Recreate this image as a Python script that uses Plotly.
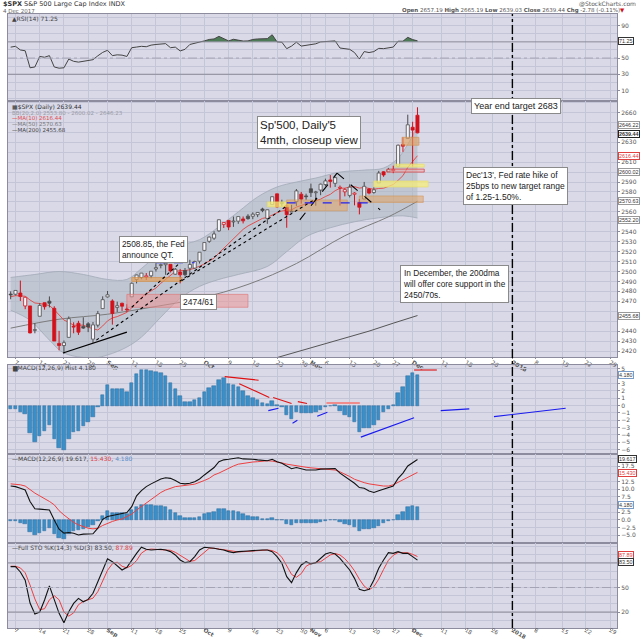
import plotly.graph_objects as go
from plotly.subplots import make_subplots

# ---------------- data ----------------
dates = [
    "Aug 4", "Aug 7", "Aug 8", "Aug 9", "Aug 10", "Aug 11", "Aug 14", "Aug 15", "Aug 16", "Aug 17",
    "Aug 18", "Aug 21", "Aug 22", "Aug 23", "Aug 24", "Aug 25", "Aug 28", "Aug 29", "Aug 30", "Aug 31",
    "Sep 1", "Sep 5", "Sep 6", "Sep 7", "Sep 8", "Sep 11", "Sep 12", "Sep 13", "Sep 14", "Sep 15",
    "Sep 18", "Sep 19", "Sep 20", "Sep 21", "Sep 22", "Sep 25", "Sep 26", "Sep 27", "Sep 28", "Sep 29",
    "Oct 2", "Oct 3", "Oct 4", "Oct 5", "Oct 6", "Oct 9", "Oct 10", "Oct 11", "Oct 12", "Oct 13",
    "Oct 16", "Oct 17", "Oct 18", "Oct 19", "Oct 20", "Oct 23", "Oct 24", "Oct 25", "Oct 26", "Oct 27",
    "Oct 30", "Oct 31", "Nov 1", "Nov 2", "Nov 3", "Nov 6", "Nov 7", "Nov 8", "Nov 9", "Nov 10",
    "Nov 13", "Nov 14", "Nov 15", "Nov 16", "Nov 17", "Nov 20", "Nov 21", "Nov 22", "Nov 24", "Nov 27",
    "Nov 28", "Nov 29", "Nov 30", "Dec 1", "Dec 4",
]
opens = [
    2476.88, 2477.14, 2478.35, 2465.35, 2465.38, 2441.04, 2454.96, 2468.66, 2470.15, 2462.95,
    2427.64, 2425.50, 2433.75, 2444.88, 2447.91, 2444.72, 2447.35, 2431.94, 2446.06, 2462.65,
    2474.42, 2470.35, 2463.83, 2468.06, 2462.25, 2474.52, 2491.94, 2493.89, 2494.56, 2495.67,
    2502.51, 2506.29, 2506.84, 2507.16, 2497.26, 2499.39, 2501.04, 2503.30, 2503.41, 2510.42,
    2521.20, 2530.34, 2533.48, 2540.86, 2547.44, 2551.39, 2549.99, 2550.62, 2552.88, 2555.66,
    2555.57, 2557.17, 2562.87, 2553.39, 2567.56, 2578.08, 2568.66, 2566.52, 2560.08, 2570.26,
    2577.75, 2575.99, 2583.21, 2579.46, 2581.93, 2587.47, 2592.11, 2588.71, 2584.00, 2580.18,
    2576.53, 2577.75, 2569.45, 2572.95, 2582.94, 2579.49, 2589.17, 2600.31, 2600.42, 2602.66,
    2605.94, 2627.82, 2633.93, 2645.10, 2657.19,
]
highs = [
    2480.00, 2480.95, 2490.87, 2474.41, 2465.38, 2448.09, 2468.22, 2468.90, 2474.93, 2465.02,
    2440.27, 2430.58, 2454.77, 2448.91, 2450.39, 2453.96, 2449.12, 2449.19, 2460.31, 2475.01,
    2480.38, 2471.97, 2469.64, 2468.62, 2467.11, 2488.95, 2496.77, 2498.37, 2498.43, 2500.23,
    2508.32, 2507.84, 2508.85, 2507.16, 2503.47, 2502.54, 2503.51, 2511.75, 2510.81, 2519.44,
    2529.23, 2535.13, 2540.53, 2552.51, 2549.41, 2551.82, 2555.23, 2555.24, 2555.33, 2557.65,
    2559.47, 2559.71, 2564.11, 2562.36, 2575.44, 2578.29, 2572.18, 2567.40, 2567.07, 2582.98,
    2580.03, 2578.29, 2588.40, 2581.11, 2588.42, 2593.38, 2597.02, 2595.47, 2586.50, 2583.81,
    2587.66, 2579.66, 2572.84, 2590.09, 2583.96, 2584.64, 2601.19, 2600.94, 2604.21, 2606.41,
    2627.69, 2634.89, 2657.74, 2650.62, 2665.19,
]
lows = [
    2472.08, 2475.88, 2470.32, 2462.08, 2437.75, 2437.85, 2454.96, 2461.61, 2463.86, 2430.01,
    2420.69, 2417.35, 2433.67, 2437.85, 2436.19, 2442.22, 2439.03, 2428.20, 2443.77, 2462.65,
    2473.85, 2446.55, 2459.20, 2460.29, 2459.40, 2474.52, 2488.03, 2492.14, 2491.35, 2493.16,
    2499.92, 2503.19, 2496.67, 2499.00, 2496.54, 2488.03, 2495.12, 2495.91, 2502.93, 2507.99,
    2520.40, 2528.85, 2531.80, 2540.02, 2543.79, 2541.60, 2544.86, 2547.95, 2548.31, 2552.09,
    2552.64, 2554.69, 2559.67, 2547.92, 2567.56, 2564.33, 2565.58, 2544.00, 2559.80, 2565.94,
    2568.25, 2572.15, 2574.92, 2566.17, 2576.77, 2585.66, 2584.35, 2585.02, 2566.33, 2575.57,
    2574.48, 2566.56, 2557.45, 2572.95, 2577.62, 2578.24, 2589.17, 2595.23, 2600.42, 2598.87,
    2605.44, 2620.32, 2633.93, 2605.52, 2639.03,
]
closes = [
    2476.83, 2480.91, 2474.92, 2474.02, 2438.21, 2441.32, 2465.84, 2464.61, 2468.11, 2430.01,
    2425.55, 2428.37, 2452.51, 2444.04, 2438.97, 2443.05, 2444.24, 2446.30, 2457.59, 2471.65,
    2476.55, 2457.85, 2465.54, 2465.10, 2461.43, 2488.11, 2496.48, 2498.37, 2495.62, 2500.23,
    2503.87, 2506.65, 2508.24, 2500.60, 2502.22, 2496.66, 2496.84, 2507.04, 2510.06, 2519.36,
    2529.12, 2534.58, 2537.74, 2552.07, 2549.33, 2544.73, 2550.64, 2555.24, 2550.93, 2553.17,
    2557.64, 2559.36, 2561.26, 2562.10, 2575.21, 2564.98, 2569.13, 2557.15, 2560.40, 2581.07,
    2572.83, 2575.26, 2579.36, 2579.85, 2587.84, 2591.13, 2590.64, 2594.38, 2584.62, 2582.30,
    2584.84, 2578.87, 2564.62, 2585.64, 2578.85, 2582.14, 2599.03, 2597.08, 2602.42, 2601.42,
    2627.04, 2626.07, 2647.58, 2642.22, 2639.44,
]
ma10 = [
    2474.6, 2475.7, 2475.4, 2475.1, 2471.3, 2468.3, 2467.8, 2466.6, 2465.7, 2461.5,
    2456.4, 2451.1, 2448.9, 2445.9, 2445.9, 2446.1, 2443.9, 2442.1, 2441.1, 2445.2,
    2450.3, 2453.3, 2454.6, 2456.7, 2458.9, 2463.4, 2468.7, 2473.9, 2477.7, 2480.5,
    2483.3, 2488.1, 2492.4, 2496.0, 2500.0, 2500.9, 2500.9, 2501.8, 2503.2, 2505.2,
    2507.7, 2510.5, 2513.4, 2518.6, 2523.3, 2528.1, 2533.5, 2538.3, 2542.4, 2545.8,
    2548.6, 2551.1, 2553.4, 2554.4, 2557.0, 2559.1, 2560.9, 2561.1, 2562.0, 2564.8,
    2566.3, 2567.9, 2569.7, 2571.5, 2572.8, 2575.4, 2577.6, 2581.3, 2583.7, 2583.8,
    2585.0, 2585.4, 2583.9, 2584.5, 2583.6, 2582.7, 2583.5, 2583.8, 2585.6, 2587.5,
    2591.7, 2596.4, 2604.7, 2610.4, 2616.44,
]
ma50_days = [-1, 9, 19, 28, 38, 48, 58, 68, 77, 83]
ma50 = [2443, 2452, 2457, 2464, 2473, 2487, 2508, 2536, 2555, 2570.63]
ma200_days = [53, 58, 63, 68, 73, 78, 83]
ma200 = [2412, 2419, 2426, 2433, 2440, 2448, 2455.68]
bb_upper_days = [-1, 4, 9, 14, 19, 23, 26, 29, 33, 38, 42, 46, 50, 54, 58, 62, 67, 72, 76, 79, 81, 83]
bb_upper = [2494, 2497, 2500, 2497, 2492, 2492, 2503, 2515, 2525, 2532, 2545, 2560, 2575, 2585,
            2590, 2594, 2600, 2602, 2604, 2614, 2628, 2646.23]
bb_lower_days = [-1, 3, 7, 10, 16, 19, 23, 26, 30, 34, 38, 42, 46, 52, 56, 60, 65, 70, 75, 80, 83]
bb_lower = [2461, 2451, 2431, 2418, 2413, 2416, 2424, 2434, 2454, 2473, 2485, 2492, 2497, 2505,
            2520, 2535, 2544, 2550, 2554, 2556, 2553.80]

rsi = [
    63.5, 64.5, 60, 59, 38, 39, 52, 51, 53, 39,
    37.5, 38, 48.8, 46, 45, 46, 46.8, 48, 52.8, 57,
    59.6, 53, 54, 53.6, 52, 62.8, 63.6, 64.5, 64, 66,
    66.8, 67.6, 67.8, 62.8, 63.5, 58.8, 60.8, 66.8, 68, 69.6,
    71.2, 73, 73.6, 76.8, 74, 71.2, 73.2, 72, 71, 71.2,
    73, 73.6, 73.6, 74, 78.8, 70, 69.6, 61.6, 64.8, 69.6,
    64.8, 66, 67, 67.6, 70, 70.4, 70.4, 71.2, 62.4, 62,
    60.8, 56.8, 48.8, 58, 56.8, 58, 62, 61.6, 62.8, 63.6,
    70.8, 70.8, 75.6, 72.8, 71.25,
]
macd_hist = [
    -0.5, -0.5, -0.9, -1.2, -3.8, -5.0, -4.1, -3.5, -2.7, -4.6,
    -5.8, -6.1, -4.5, -3.6, -3.4, -2.8, -2.2, -1.5, -0.2, 1.4,
    2.8, 2.3, 2.3, 2.2, 1.8, 3.1, 4.3, 4.9, 4.8, 4.7,
    4.6, 4.5, 4.1, 3.1, 2.3, 1.3, 0.5, 0.5, 0.7, 1.1,
    1.8, 2.4, 2.7, 3.5, 3.7, 3.0, 2.8, 2.6, 2.0, 1.3,
    1.1, 0.8, 0.4, 0.2, 0.6, 0.1, -0.15, -1.3, -1.8, -0.9,
    -1.0, -1.0, -1.0, -0.9, -0.6, -0.2, -0.05, 0.05, -0.7, -1.3,
    -1.5, -2.3, -3.6, -3.1, -3.1, -2.7, -1.9, -0.9, -0.4, 0.1,
    1.7, 2.5, 4.1, 4.5, 4.18,
]
macd = [
    11.0, 10.8, 10.3, 9.7, 6.0, 3.6, 3.5, 3.4, 3.2, 0.0, -3.0, -4.3,
    -4.1, -4.3, -4.9, -4.6, -4.5, -4.5, -2.7, 0.2, 1.1, 1.4,
    1.9, 2.2, 2.4, 4.3, 7.8, 9.5, 10.8, 11.7, 12.4, 13.3,
    13.7, 13.5, 12.8, 11.9, 11.7, 11.9, 12.4, 13.3, 14.6, 15.7,
    17.0, 18.9, 19.5, 19.7, 19.9, 20.2, 19.8, 19.8, 19.7, 19.5,
    19.3, 19.2, 19.7, 18.9, 18.4, 17.5, 16.6, 17.0, 16.5, 16.2,
    16.2, 16.2, 16.5, 16.6, 16.7, 16.7, 15.2, 14.1, 13.2, 11.9,
    10.5, 10.3, 9.4, 8.9, 9.5, 10.0, 10.6, 11.0, 13.5, 15.2,
    17.5, 18.7, 19.617,
]
macd_signal = [
    11.7, 11.6, 11.4, 11.0, 9.7, 8.7, 7.8, 7.0, 6.0, 4.9, 3.0, 1.6,
    0.3, -0.8, -1.6, -2.2, -2.7, -2.9, -2.7, -1.8, -1.1, -0.5,
    0.0, 0.3, 1.1, 1.9, 3.2, 4.3, 5.6, 6.7, 7.8, 8.9,
    9.7, 10.3, 10.8, 11.0, 11.3, 11.4, 11.6, 12.1, 12.8, 13.5,
    14.6, 15.2, 16.0, 16.8, 17.5, 18.1, 18.4, 18.6, 18.8, 18.9,
    19.1, 19.2, 19.1, 18.9, 18.5, 18.1, 17.8, 17.5, 17.3, 17.1,
    16.9, 16.8, 16.7, 16.6, 16.4, 16.2, 15.6, 14.9, 14.1, 13.2,
    12.6, 12.1, 11.7, 11.4, 11.2, 11.0, 11.0, 11.4, 12.2, 13.0,
    14.0, 14.7, 15.43,
]
sto_k = [
    75.5, 75.5, 69, 59, 31, 17.6, 20, 34.7, 52, 34.7, 18.4, 7,
    20.4, 30.6, 36.7, 32.6, 35.5, 42.9, 57, 71.4, 85, 81.6,
    76.3, 71.4, 74.7, 83.7, 91.8, 99.2, 96.7, 95.9, 96.7, 96.7,
    95.9, 93.9, 89.8, 83.7, 80.4, 81.6, 87.8, 95.9, 99.2, 98.8,
    98, 96.7, 95.9, 93.9, 92.7, 93.9, 94.7, 94.7, 95.1, 95.9,
    95.9, 95.9, 93.9, 87.8, 79.6, 63.3, 55.9, 68.2, 77.6, 81.6,
    78.8, 80.4, 85.7, 91, 92.7, 91, 85.7, 78.8, 71.4, 61.2,
    47.8, 46.1, 47.8, 59.2, 73.5, 83.7, 92.7, 91.8, 93.9, 91.8,
    91.8, 87.8, 83.5,
]
sto_d = [
    76, 76, 74, 68, 53, 36, 23, 24, 35, 40, 35, 20,
    15, 19, 29, 33, 35, 37, 45, 57, 71, 79,
    81, 76, 74, 77, 83, 92, 96, 97, 96.5, 96.4,
    96.4, 95.5, 93, 89, 85, 82, 83, 88, 94, 98,
    98, 97, 96.5, 95.5, 94, 93.5, 93.8, 94.4, 94.8, 95.2,
    95.6, 95.9, 95.2, 92.5, 87, 77, 66, 62.5, 67, 76,
    79.3, 80.3, 81.6, 85.7, 89.8, 91.6, 89.8, 85.2, 78.6, 70.5,
    60.1, 51.7, 47.2, 51, 60.2, 72.1, 83.3, 89.4, 92.8, 92.5,
    92.5, 90.5, 87.89,
]

# trading-day positions of the weekly / monthly ticks (Aug 7 = 0)
tick_days = [0, 5, 10, 15, 19, 24, 29, 34, 39, 44, 49, 54, 59, 61, 64, 69, 74, 78, 82,
             88, 93, 98.4, 102.6, 107.3, 112.9, 117.7, 122.8]
tick_labels = ["7", "14", "21", "28", "<b>Sep</b>", "11", "18", "25", "<b>Oct</b>", "9", "16", "23",
               "30", "<b>Nov</b>", "6", "13", "20", "27", "<b>Dec</b>", "11", "18", "26",
               "<b>2018</b>", "8", "15", "22", "29"]
new_year_day = 102.6

# right-axis labels (the ones not hidden under value flags)
rsi_ticks = [10, 30, 50, 90]
price_ticks = [2420, 2430, 2440, 2470, 2480, 2490, 2500, 2510, 2520, 2530, 2540, 2560, 2580,
               2590, 2610, 2630, 2660]
hist_ticks = [-6, -5, -4, -3, -2, -1, 0, 1, 2, 3, 5]
macd_ticks = [-5, -2.5, 0, 2.5, 7.5, 10, 12.5, 17.5]
sto_ticks = [20, 50]

# ---------------- styling ----------------
BG = "#d9d9e8"
GRID = "#c5c5d8"
FRAME = "#8c8c9e"
RED = "#d3111b"
DARK = "#4a4a4a"
SMALL = dict(family="DejaVu Sans", size=6, color="#555555")
NOTE_FONT = "Liberation Sans"

day = list(range(-1, len(dates) - 1))

fig = make_subplots(rows=5, cols=1, shared_xaxes=True, vertical_spacing=0)

# ---- RSI ----
fig.add_trace(go.Scatter(x=day, y=[70] * len(day), mode="lines", line=dict(width=0),
                         hoverinfo="skip"), row=1, col=1)
fig.add_trace(go.Scatter(x=day, y=[max(v, 70) for v in rsi], mode="lines", line=dict(width=0),
                         fill="tonexty", fillcolor="#4c7b55", hoverinfo="skip"), row=1, col=1)
fig.add_trace(go.Scatter(x=day, y=rsi, mode="lines", line=dict(color="#444444", width=1)),
              row=1, col=1)

# ---- price: bollinger band, moving averages, candles ----
fig.add_trace(go.Scatter(x=bb_lower_days, y=bb_lower, mode="lines", line_shape="spline",
                         line=dict(color="#a2a9b6", width=0.8)), row=2, col=1)
fig.add_trace(go.Scatter(x=bb_upper_days, y=bb_upper, mode="lines", line_shape="spline",
                         line=dict(color="#a2a9b6", width=0.8), fill="tonexty",
                         fillcolor="rgba(172,182,192,0.55)"), row=2, col=1)
fig.add_trace(go.Scatter(x=ma200_days, y=ma200, mode="lines",
                         line=dict(color="#555555", width=1)), row=2, col=1)
fig.add_trace(go.Scatter(x=ma50_days, y=ma50, mode="lines", line_shape="spline",
                         line=dict(color="#7c7c7c", width=1)), row=2, col=1)
fig.add_trace(go.Scatter(x=day, y=ma10, mode="lines",
                         line=dict(color="#e05050", width=1)), row=2, col=1)

wicks = {"dark": ([], []), "red": ([], [])}
bodies = {}
for i, (o, h, l, c) in enumerate(zip(opens, highs, lows, closes)):
    x = day[i]
    tone = "dark" if (i == 0 or c >= closes[i - 1]) else "red"
    kind = "hollow" if c >= o else "solid"
    top, bot = max(o, c), min(o, c)
    if top - bot < 0.8:
        mid = (top + bot) / 2
        top, bot = mid + 0.4, mid - 0.4
    wx, wy = wicks[tone]
    wx += [x, x, None, x, x, None]
    wy += [h, top, None, bot, l, None]
    bx, by = bodies.setdefault((kind, tone), ([], []))
    bx += [x - 0.32, x + 0.32, x + 0.32, x - 0.32, x - 0.32, None]
    by += [bot, bot, top, top, bot, None]

for tone, (wx, wy) in wicks.items():
    fig.add_trace(go.Scatter(x=wx, y=wy, mode="lines", hoverinfo="skip",
                             line=dict(color=RED if tone == "red" else DARK, width=1)),
                  row=2, col=1)
for (kind, tone), (bx, by) in bodies.items():
    col = RED if tone == "red" else DARK
    fig.add_trace(go.Scatter(x=bx, y=by, mode="lines", fill="toself", hoverinfo="skip",
                             fillcolor="#f6f6fb" if kind == "hollow" else col,
                             line=dict(color=col, width=0.8)), row=2, col=1)

# ---- MACD histogram panel ----
fig.add_trace(go.Bar(x=day, y=macd_hist, width=0.72, marker_color="#3b8fc9",
                     marker_line=dict(color="#29699a", width=0.5)), row=3, col=1)

# ---- MACD panel ----
fig.add_trace(go.Bar(x=day, y=macd_hist, width=0.72, marker_color="#3b8fc9",
                     marker_line=dict(color="#29699a", width=0.5)), row=4, col=1)
fig.add_trace(go.Scatter(x=day, y=macd_signal, mode="lines",
                         line=dict(color="#ee4040", width=1)), row=4, col=1)
fig.add_trace(go.Scatter(x=day, y=macd, mode="lines",
                         line=dict(color="#111111", width=1.1)), row=4, col=1)

# ---- Full stochastics ----
fig.add_trace(go.Scatter(x=day, y=sto_d, mode="lines",
                         line=dict(color="#ee4040", width=1)), row=5, col=1)
fig.add_trace(go.Scatter(x=day, y=sto_k, mode="lines",
                         line=dict(color="#111111", width=1.1)), row=5, col=1)

# reference levels
for row, lv in [(1, 70), (1, 30), (5, 80), (5, 20)]:
    fig.add_hline(y=lv, row=row, col=1, line=dict(color="#8a8a98", width=1))
for row in (1, 5):
    fig.add_hline(y=50, row=row, col=1, line=dict(color="#a4a4b4", width=1, dash="dashdot"))

# ---------------- annotation drawing (zones, trend lines) ----------------
zones = [  # day0, day1, price0, price1, fill, outline
    (23, 48, 2464, 2477, "rgba(236,150,150,0.55)", "rgba(220,120,120,0.8)"),
    (24, 34.4, 2490, 2494, "rgba(228,160,90,0.7)", "rgba(210,140,70,0.8)"),
    (52, 56.7, 2565, 2570, "rgba(246,236,120,0.75)", "rgba(230,220,100,0.8)"),
    (56, 68.5, 2561, 2572, "rgba(228,160,90,0.5)", "rgba(210,140,70,0.6)"),
    (71, 84.2, 2569.5, 2576, "rgba(228,160,90,0.5)", "rgba(210,140,70,0.6)"),
    (74, 85.2, 2585, 2591, "rgba(246,236,120,0.75)", "rgba(230,220,100,0.8)"),
    (76.7, 84.4, 2600, 2603, "rgba(240,170,170,0.5)", "rgba(220,60,60,0.9)"),
    (78.4, 84.4, 2605, 2608, "rgba(246,236,120,0.75)", "rgba(230,220,100,0.8)"),
    (79.8, 83.3, 2627, 2635, "rgba(228,160,90,0.6)", "rgba(210,140,70,0.7)"),
]
for d0, d1, p0, p1, fc, lc in zones:
    fig.add_shape(type="rect", xref="x2", yref="y2", x0=d0, x1=d1, y0=p0, y1=p1,
                  fillcolor=fc, line=dict(color=lc, width=0.8), layer="above")

price_lines = [  # day0, price0, day1, price1, colour, dash, width
    (9.8, 2418, 23, 2439, "black", "solid", 1.2),
    (16.7, 2431, 56, 2566, "black", "dot", 1.1),
    (24, 2464, 34, 2509, "black", "dot", 1.1),
    (34.4, 2491, 62.3, 2574, "black", "dot", 1.1),
    (58.7, 2552, 66.4, 2599, "black", "dash", 1.1),
    (66.4, 2599, 75.3, 2562, "black", "dash", 1.1),
    (29, 2508.85, 37, 2508.85, "#2222ee", "dash", 1.1),
    (56, 2569, 74, 2569, "#2222ee", "dash", 1.1),
]
for d0, p0, d1, p1, c, dash, w in price_lines:
    fig.add_shape(type="line", xref="x2", yref="y2", x0=d0, y0=p0, x1=d1, y1=p1,
                  line=dict(color=c, dash=dash, width=w))

hist_lines = [  # day0, v0, day1, v1, colour, width
    (43.2, 3.96, 50.2, 3.47, "#e01010", 1.1),
    (46.2, 3.0, 52.4, 1.1, "#e01010", 1.1),
    (53.2, 1.1, 57, 0.3, "#e01010", 1.1),
    (58.3, 0.54, 60.2, 0.3, "#e01010", 1.1),
    (82.3, 4.86, 87, 4.86, "#e01010", 1.1),
    (64.2, 0.36, 71.1, 0.36, "#f08c8c", 2.2),
    (52.2, -0.68, 54.3, -0.36, "#1a1aee", 1.1),
    (57.2, -2.4, 58.2, -2.0, "#1a1aee", 1.1),
    (62.3, -1.45, 64.4, -0.9, "#1a1aee", 1.1),
    (71.3, -4.3, 82.3, -1.66, "#1a1aee", 1.1),
    (87.8, -0.68, 93.7, -0.45, "#1a1aee", 1.1),
    (98.8, -1.5, 113.6, -0.36, "#1a1aee", 1.1),
]
for d0, v0, d1, v1, c, w in hist_lines:
    fig.add_shape(type="line", xref="x3", yref="y3", x0=d0, y0=v0, x1=d1, y1=v1,
                  line=dict(color=c, width=w))

# new year marker across all panels
fig.add_shape(type="line", xref="x5", yref="paper", x0=new_year_day, x1=new_year_day, y0=0, y1=1,
              line=dict(color="black", width=1.4, dash="dashdot"))

# ---------------- axes ----------------
domains = [(0.8583, 1.0), (0.4414, 0.8583), (0.2834, 0.4283), (0.1384, 0.2834), (0.0, 0.1384)]
ranges = [(-3, 104.4), (2414, 2671.5), (-6.6, 5.54), (-7.5, 21.4), (0.5, 104.4)]
for r in range(5):
    fig.update_yaxes(row=r + 1, col=1, domain=domains[r], range=ranges[r], side="right",
                     showgrid=True, gridcolor=GRID, gridwidth=1, zeroline=False,
                     showline=True, mirror=True, linecolor=FRAME, linewidth=1,
                     ticks="outside", ticklen=2, tickcolor=FRAME, tickfont=SMALL,
                     automargin=False, ticklabeloverflow="allow")
    fig.update_xaxes(row=r + 1, col=1, range=[-1.55, 124.2], tickmode="array",
                     tickvals=tick_days, ticktext=tick_labels, showgrid=True, gridcolor=GRID,
                     zeroline=False, showline=True, mirror=True, linecolor=FRAME, linewidth=1,
                     ticks="outside", ticklen=1, tickcolor=FRAME,
                     tickfont=dict(SMALL, size=5.6) if r == 4 else SMALL,
                     ticklabelstandoff=-5 if r == 4 else -2,
                     showticklabels=(r in (1, 4)), automargin=False, ticklabeloverflow="allow")
fig.update_yaxes(row=1, col=1, tickvals=rsi_ticks,
                 minor=dict(tickvals=[0, 20, 40, 60, 80, 100], showgrid=True, gridcolor=GRID, ticks=""))
fig.update_yaxes(row=2, col=1, tickvals=price_ticks,
                 minor=dict(tick0=2420, dtick=10, showgrid=True, gridcolor=GRID, ticks=""))
fig.update_yaxes(row=3, col=1, tickvals=hist_ticks,
                 minor=dict(tickvals=[4], showgrid=True, gridcolor=GRID, ticks=""))
fig.update_yaxes(row=4, col=1, tickvals=macd_ticks, tickformat=".1f",
                 minor=dict(tickvals=[5, 15, 20], showgrid=True, gridcolor=GRID, ticks=""))
fig.update_yaxes(row=5, col=1, tickvals=sto_ticks,
                 minor=dict(tickvals=[10, 30, 40, 60, 70, 80, 90, 100], showgrid=True,
                            gridcolor=GRID, ticks=""))


# ---------------- text ----------------
def pos(px, py):
    return (px - 8) / 609, (628 - py) / 614


def text(px, py, s, size=6, color="#444444", anchor="left", family="DejaVu Sans"):
    x, y = pos(px, py)
    fig.add_annotation(x=x, y=y, xref="paper", yref="paper", text=s, showarrow=False,
                       xanchor=anchor, yanchor="middle", align=anchor,
                       font=dict(family=family, size=size, color=color))


text(1, 4, "<b>$SPX</b> S&P 500 Large Cap Index INDX", size=6.5, color="#333333")
text(1, 11, "4 Dec 2017", size=5.5, color="#666666")
text(638, 4, "@StockCharts.com", size=6, color="#555555", anchor="right")
text(627, 11, "<b>Open</b> 2657.19 <b>High</b> 2665.19 <b>Low</b> 2639.03 <b>Close</b> 2639.44 "
     "<b>Chg</b> -2.78 (-0.11%)<span style='color:#d3111b'>▼</span>", size=5.5, color="#555555",
     anchor="right")

text(10, 18, "▲RSI(14) 71.25", size=6, color="#444444")
text(10, 107, "▦$SPX (Daily) 2639.44", size=6, color="#333333")
text(10, 112.7, "BB(20,2.0) 2553.80 - 2600.02 - 2646.23", size=5.5, color="#9a9aa4")
text(10, 118.3, "<span style='color:#e03030'>—</span>MA(10) 2616.44", size=5.5, color="#e05050")
text(10, 124, "—MA(50) 2570.63", size=5.5, color="#777777")
text(10, 129.7, "—MA(200) 2455.68", size=5.5, color="#444444")
text(10, 368.5, "▆MACD(12,26,9) Hist 4.180", size=6, color="#444444")
text(10, 458, "—MACD(12,26,9) 19.617, <span style='color:#e04040'>15.430</span>, "
     "<span style='color:#5a8fc8'>4.180</span>", size=6, color="#444444")
text(10, 547.5, "—Full STO %K(14,3) %D(3) 83.50, <span style='color:#e04040'>87.89</span>",
     size=6, color="#444444")

# value flags on the right axis
flags = [  # y-axis, value, label, border colour, bold, vertical nudge
    ("y", 71.25, "71.25", "#333333", False, 0),
    ("y2", 2646.22, "2646.22", "#999999", False, 1),
    ("y2", 2639.44, "2639.44", "#222222", True, -1),
    ("y2", 2616.44, "2616.44", "#e04040", False, 0),
    ("y2", 2600.02, "2600.02", "#999999", False, 0),
    ("y2", 2570.63, "2570.63", "#999999", False, 0),
    ("y2", 2552.20, "2552.20", "#999999", False, 0),
    ("y2", 2455.68, "2455.68", "#999999", False, 0),
    ("y3", 4.18, "4.180", "#7a9cc8", False, 0),
    ("y4", 19.617, "19.617", "#333333", False, 0),
    ("y4", 15.43, "15.430", "#e04040", False, -1),
    ("y4", 4.18, "4.180", "#7a9cc8", False, 2),
    ("y5", 87.89, "87.89", "#e04040", False, 2),
    ("y5", 83.5, "83.50", "#333333", False, -2),
]
for yref, v, s, bc, bold, nudge in flags:
    fig.add_annotation(x=1, xref="paper", y=v, yref=yref, text=f"<b>{s}</b>" if bold else s,
                       showarrow=False, xanchor="left", xshift=0.5, yshift=nudge, bgcolor="white",
                       bordercolor=bc, borderwidth=1, borderpad=0,
                       font=dict(family="Liberation Sans", size=5.4,
                                 color="#e04040" if bc == "#e04040" else "#333333"))

# chart notes
notes = [
    (309, 132.5, "Sp'500, Daily'5<br>4mth, closeup view", 11.5),
    (515.5, 106.5, "Year end target 2683", 9),
    (515.5, 186, "Dec'13', Fed rate hike of<br>25bps to new target range<br>of 1.25-1.50%.", 8.5),
    (454, 284, "In December, the 200dma<br>will offer core support in the<br>2450/70s.", 8.3),
    (153, 249.5, "2508.85, the Fed<br>announce QT.", 8.3),
    (198, 302, "2474/61", 8.5),
]
for px, py, s, size in notes:
    x, y = pos(px, py)
    fig.add_annotation(x=x, y=y, xref="paper", yref="paper", text=s, showarrow=False,
                       xanchor="center", yanchor="middle", align="left", bgcolor="white",
                       bordercolor="#8a8a8a", borderwidth=1, borderpad=2,
                       font=dict(family=NOTE_FONT, size=size, color="#222222"))

fig.update_layout(
    width=640, height=640,
    margin=dict(l=8, r=23, t=14, b=12, autoexpand=False),
    paper_bgcolor="white", plot_bgcolor=BG,
    showlegend=False, barmode="overlay", bargap=0,
)

# the page body has a default 8px margin; drop it so the 640x640 figure fills the window
fig.write_html("out.html", config={"displayModeBar": False},
               post_script="document.body.style.margin='0';")
